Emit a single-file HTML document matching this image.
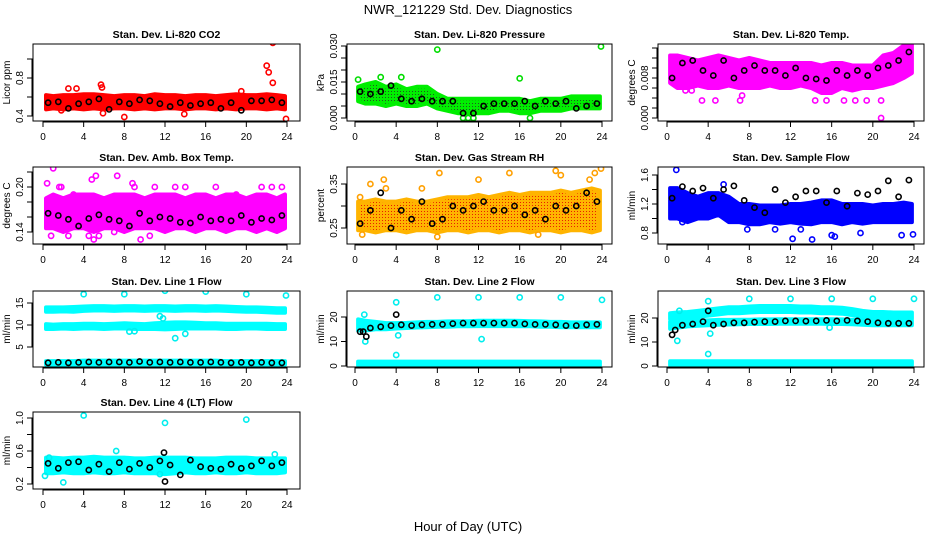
<!DOCTYPE html>
<html><head><meta charset="utf-8">
<style>
html,body{margin:0;padding:0;background:#fff;}
svg{display:block;font-family:"Liberation Sans",Arial,sans-serif;}
.ttl{font-size:10.5px;font-weight:bold;}
.tk{font-size:10px;}
</style></head>
<body>
<svg id="chart" width="936" height="540" viewBox="0 0 936 540" xmlns="http://www.w3.org/2000/svg">
<defs>
<pattern id="stipK" width="3" height="3" patternUnits="userSpaceOnUse"><rect width="3" height="3" fill="#00ee00"/><rect x="1" y="1" width="1" height="1" fill="#225522"/></pattern>
<pattern id="stipR" width="3" height="3" patternUnits="userSpaceOnUse"><rect width="3" height="3" fill="#ffb400"/><rect x="1" y="1" width="1" height="1" fill="#e82000"/></pattern>
</defs>
<text x="468" y="14" text-anchor="middle" font-size="13">NWR_121229  Std. Dev. Diagnostics</text>
<text x="468" y="531" text-anchor="middle" font-size="13">Hour of Day (UTC)</text>
</svg>
<script>
const bandH=[0.3,1,2,3,4,5,6,7,8,9,10,11,12,13,14,15,16,17,18,19,20,21,22,23,23.8];
const meanH=[0.5,1.5,2.5,3.5,4.5,5.5,6.5,7.5,8.5,9.5,10.5,11.5,12.5,13.5,14.5,15.5,16.5,17.5,18.5,19.5,20.5,21.5,22.5,23.5];
const xTicks=[0,4,8,12,16,20,24];

// Panel 1 CO2
const co2Lo=[0.47,0.48,0.47,0.48,0.47,0.48,0.47,0.48,0.48,0.47,0.48,0.47,0.48,0.48,0.47,0.48,0.48,0.47,0.48,0.47,0.48,0.48,0.47,0.48,0.47];
const co2Hi=[0.62,0.61,0.62,0.62,0.63,0.63,0.62,0.61,0.62,0.62,0.61,0.63,0.62,0.62,0.61,0.62,0.62,0.61,0.62,0.63,0.62,0.62,0.63,0.62,0.61];
const co2Mean=[0.54,0.55,0.48,0.53,0.55,0.58,0.47,0.55,0.53,0.57,0.56,0.53,0.50,0.54,0.51,0.53,0.54,0.48,0.54,0.46,0.56,0.56,0.57,0.54];
const co2OutX=[2.5,3.3,5.7,5.8,8,13.9,19.5,22,22.2,22.6,22.6,23.9,5.9,1.8];
const co2OutY=[0.69,0.69,0.73,0.7,0.39,0.42,0.66,0.93,0.86,1.17,0.75,0.37,0.43,0.46];
const co2Ticks=[0.4,0.6,0.8,1.0];const co2Labels=["0.4","","0.8",""];

// Panel 2 Pressure
const prLo=[0.007,0.006,0.006,0.005,0.006,0.005,0.005,0.006,0.004,0.003,0.002,0.002,0.002,0.002,0.003,0.003,0.002,0.002,0.003,0.003,0.003,0.004,0.004,0.004,0.004];
const prHi=[0.013,0.014,0.015,0.013,0.014,0.012,0.013,0.013,0.010,0.008,0.008,0.008,0.008,0.008,0.008,0.008,0.008,0.007,0.008,0.008,0.008,0.009,0.009,0.009,0.009];
const prMean=[0.011,0.010,0.011,0.0135,0.008,0.007,0.008,0.007,0.007,0.007,0.002,0.002,0.005,0.006,0.006,0.006,0.007,0.005,0.007,0.006,0.007,0.004,0.005,0.006];
const prOutX=[0.3,8,16,23.9,10.5,11,11.5,17,4.5,2.5];
const prOutY=[0.016,0.0285,0.0165,0.0298,0.0,0.0,0.0,0.0,0.017,0.017];
const prTicks=[0,0.005,0.01,0.015,0.02,0.025,0.03];const prLabels=["0.000","","","0.015","","","0.030"];

// Panel 3 Li-820 Temp
const tLo=[0.007,0.006,0.006,0.0065,0.006,0.006,0.0065,0.006,0.006,0.006,0.0065,0.006,0.006,0.0065,0.006,0.005,0.005,0.006,0.0055,0.006,0.006,0.0065,0.007,0.008,0.009];
const tHi=[0.0125,0.0125,0.012,0.0115,0.012,0.0125,0.012,0.0115,0.012,0.0115,0.011,0.011,0.011,0.011,0.011,0.0105,0.011,0.011,0.0105,0.0105,0.0105,0.0125,0.013,0.0145,0.0155];
const tMean=[0.008,0.011,0.0115,0.0095,0.0085,0.0115,0.008,0.0095,0.0105,0.0095,0.0095,0.0085,0.010,0.008,0.0078,0.0075,0.0095,0.0085,0.0095,0.0085,0.010,0.0105,0.0115,0.0132];
const tOutX=[3.4,4.7,7.1,7.3,14.4,15.5,17.2,18.3,19.4,20.8,20.8,1.8,2.4];
const tOutY=[0.0035,0.0035,0.0035,0.0045,0.0035,0.0035,0.0035,0.0035,0.0035,0.0035,0.0,0.0055,0.0055];
const tTicks=[0,0.002,0.004,0.006,0.008,0.010,0.012,0.014];const tLabels=["0.000","","","","0.008","","",""];

// Panel 4 Amb box temp
const abLo=[0.145,0.145,0.14,0.145,0.145,0.14,0.145,0.145,0.14,0.145,0.145,0.145,0.14,0.145,0.145,0.14,0.145,0.145,0.14,0.145,0.145,0.14,0.145,0.14,0.145];
const abHi=[0.185,0.19,0.185,0.19,0.19,0.19,0.185,0.19,0.19,0.19,0.185,0.19,0.19,0.19,0.185,0.19,0.19,0.185,0.19,0.19,0.185,0.19,0.19,0.185,0.19];
const abMean=[0.165,0.162,0.157,0.148,0.158,0.163,0.157,0.155,0.148,0.165,0.155,0.16,0.158,0.153,0.152,0.16,0.155,0.157,0.155,0.162,0.153,0.158,0.156,0.162];
const abOutX=[1,0.4,1.6,1.8,4.8,5,5.2,7.3,8.8,9,9.6,4.5,0.8,2.5,5.5,11,14,17,19,21.5,23.5,13,10.5,7,22.5,3];
const abOutY=[0.225,0.205,0.2,0.2,0.21,0.13,0.215,0.215,0.205,0.2,0.13,0.135,0.135,0.135,0.135,0.2,0.2,0.2,0.19,0.2,0.2,0.2,0.135,0.14,0.2,0.19];
const abTicks=[0.14,0.16,0.18,0.20,0.22];const abLabels=["0.14","","","0.20",""];

// Panel 5 RH
const rhLo=[0.245,0.245,0.24,0.245,0.245,0.24,0.245,0.245,0.24,0.245,0.245,0.24,0.245,0.245,0.24,0.245,0.245,0.24,0.245,0.245,0.24,0.245,0.245,0.24,0.245];
const rhHi=[0.31,0.31,0.315,0.31,0.31,0.315,0.31,0.31,0.315,0.32,0.32,0.32,0.325,0.32,0.325,0.33,0.325,0.33,0.33,0.33,0.335,0.33,0.335,0.34,0.335];
const rhMean=[0.26,0.29,0.33,0.25,0.29,0.27,0.31,0.26,0.27,0.3,0.29,0.3,0.31,0.29,0.29,0.3,0.28,0.29,0.27,0.3,0.29,0.3,0.33,0.31];
const rhOutX=[0.5,1.5,0.7,8.2,8,15,19.5,20,23.3,23.9,22.8,3,6.5,12,17.8,2.8];
const rhOutY=[0.32,0.35,0.235,0.375,0.23,0.375,0.38,0.37,0.375,0.385,0.36,0.34,0.34,0.36,0.235,0.36];
const rhTicks=[0.25,0.30,0.35];const rhLabels=["0.25","","0.35"];

// Panel 6 Sample flow
const sfLo=[1.0,1.0,0.95,1.0,1.0,1.05,0.95,0.95,0.92,0.92,0.95,0.93,0.95,0.93,0.92,0.95,0.95,0.92,0.95,0.93,0.95,0.95,0.95,0.95,0.95];
const sfHi=[1.42,1.42,1.35,1.3,1.35,1.35,1.3,1.2,1.2,1.18,1.18,1.18,1.2,1.2,1.22,1.25,1.25,1.2,1.2,1.2,1.18,1.2,1.2,1.22,1.2];
const sfMean=[1.28,1.44,1.38,1.42,1.28,1.4,1.45,1.25,1.15,1.08,1.4,1.22,1.3,1.38,1.38,1.22,1.38,1.17,1.35,1.33,1.38,1.52,1.3,1.53];
const sfOutX=[0.9,1.5,5.5,7.8,12.2,14.1,16,16.3,18.8,22.8,23.9,10.5,13,9];
const sfOutY=[1.67,0.95,1.47,0.85,0.72,0.71,0.77,0.75,0.8,0.77,0.78,0.85,0.85,0.95];
const sfTicks=[0.8,1.0,1.2,1.4,1.6];const sfLabels=["0.8","","1.2","","1.6"];

// Panel 7 Line 1 flow
const l1TopLo=[13,13,13.1,13,13.2,13.3,13.3,13.2,13.3,13.3,13.2,13.3,13.3,13.2,13.3,13.3,13.2,13.3,13.2,13.1,13,13,12.9,12.8,12.8];
const l1TopHi=[14,14,14,14.1,14.2,14.3,14.3,14.2,14.3,14.3,14.2,14.3,14.3,14.2,14.3,14.3,14.2,14.3,14.2,14.1,14,14,13.9,13.8,13.8];
const l1MidLo=[9.1,9.1,9.2,9.1,9.2,9.2,9.1,9.2,9.2,9.1,9.1,9.1,9.0,9.1,9.2,9.2,9.2,9.2,9.1,9.1,9.2,9.2,9.1,9.1,9.1];
const l1MidHi=[10.2,10.1,10.2,10.2,10.3,10.3,10.2,10.3,10.4,10.3,10.2,10.4,10.5,10.6,10.6,10.5,10.4,10.4,10.3,10.3,10.3,10.3,10.3,10.2,10.2];
const l1LowLo=[1.0,1.0,1.0,1.0,1.0,1.0,1.0,1.0,1.0,1.0,1.0,1.0,1.0,1.0,1.0,1.0,1.0,1.0,1.0,1.0,1.0,1.0,1.0,1.0,1.0];
const l1LowHi=[1.8,1.8,1.8,1.8,1.9,1.9,1.9,1.9,1.9,1.9,1.9,1.9,1.9,1.9,1.9,1.9,1.9,1.9,1.8,1.8,1.8,1.8,1.8,1.8,1.8];
const l1Mean=[1.4,1.5,1.4,1.5,1.6,1.5,1.6,1.6,1.5,1.7,1.5,1.6,1.5,1.6,1.5,1.5,1.6,1.5,1.4,1.5,1.4,1.5,1.4,1.4];
const l1OutX=[4,8,12,16,20,23.9,11.8,13,14,8.5,9,11.5];
const l1OutY=[17,17,17.8,17.6,17,16.7,11.5,7,8,8.5,8.6,12];
const l1Ticks=[5,10,15];const l1Labels=["5","10","15"];

// Panel 8 Line 2 flow
const l2TopLo=[14.5,14.5,15,15,15.3,15.5,15.7,15.8,16,16,16.2,16.2,16.3,16.3,16.3,16.3,16.2,16.2,16,16,15.8,15.8,15.8,15.8,15.8];
const l2TopHi=[19,18.5,18,17.5,17.5,17.6,17.8,18,18,18.2,18.3,18.3,18.5,18.5,18.5,18.5,18.4,18.3,18.2,18,18,17.8,17.8,17.8,17.8];
const l2LowLo=[0.2,0.2,0.2,0.2,0.2,0.2,0.2,0.2,0.2,0.2,0.2,0.2,0.2,0.2,0.2,0.2,0.2,0.2,0.2,0.2,0.2,0.2,0.2,0.2,0.2];
const l2LowHi=[1.8,1.8,1.8,1.8,1.8,1.8,1.8,1.8,1.8,1.8,1.8,1.8,1.8,1.8,1.8,1.8,1.8,1.8,1.8,1.8,1.8,1.8,1.8,1.8,1.8];
const l2Mean=[14,15.5,16,16.5,16.8,16.5,16.8,17,17,17.3,17.5,17.5,17.5,17.5,17.5,17.5,17.2,17,17,16.8,16.5,16.5,16.8,17];
const l2OutX=[4,4,1,8,12,16,20,24,0.9,12.3,4.2];
const l2OutY=[26,4.5,10,28,28,28,28,27,21,11,12.5];
const l2ExtraX=[0.8,1.1,4];const l2ExtraY=[14,12,21];
const l2Ticks=[0,10,20];const l2Labels=["0","10","20"];

// Panel 9 Line 3 flow
const l3TopLo=[19.5,19.8,20,20.5,21,21.5,22,22,22.3,22.5,22.5,22.5,22.5,22.3,22.3,22,22,21.8,21.2,20.5,20,20,19.8,19.8,19.8];
const l3TopHi=[22,22.3,22.5,23,23.5,24,24.5,24.5,24.8,25,25,25,25,24.8,24.8,24.5,24.5,24.3,23.7,23,22.5,22.5,22.3,22.3,22.3];
const l3MidLo=[15.5,16,16.5,16.8,17,17.2,17.3,17.4,17.5,17.5,17.5,17.6,17.6,17.6,17.6,17.6,17.5,17.5,17.4,17.2,17,17,17,17,17];
const l3MidHi=[18.5,18.7,18.8,19,19,19.2,19.2,19.3,19.3,19.4,19.4,19.5,19.5,19.5,19.5,19.5,19.5,19.4,19.3,19.2,19,19,19,19,19];
const l3LowLo=[0.3,0.3,0.3,0.3,0.3,0.3,0.3,0.3,0.3,0.3,0.3,0.3,0.3,0.3,0.3,0.3,0.3,0.3,0.3,0.3,0.3,0.3,0.3,0.3,0.3];
const l3LowHi=[2,2,2,2,2,2,2,2,2,2,2,2,2,2,2,2,2,2,2,2,2,2,2,2,2];
const l3Mean=[13,17,17.5,18.5,17,17.5,18,18,18.3,18.5,18.5,18.8,18.8,18.7,18.8,19,18.8,19,18.8,18.5,18,17.8,17.8,17.8];
const l3OutX=[4,4,4.2,1,1.2,8,12,16,20,24,15.8];
const l3OutY=[5,27,13.5,10.5,23,28,28,28,28,28,16];
const l3ExtraX=[0.8,4];const l3ExtraY=[15,23];
const l3Ticks=[0,10,20];const l3Labels=["0","10","20"];

// Panel 10 Line 4 flow
const l4Lo=[0.33,0.33,0.34,0.33,0.33,0.34,0.33,0.33,0.34,0.33,0.33,0.33,0.32,0.33,0.34,0.33,0.33,0.34,0.33,0.33,0.34,0.33,0.33,0.33,0.34];
const l4Hi=[0.52,0.52,0.51,0.52,0.52,0.53,0.52,0.52,0.52,0.51,0.51,0.52,0.52,0.52,0.52,0.51,0.51,0.51,0.52,0.52,0.52,0.51,0.51,0.51,0.51];
const l4Mean=[0.45,0.39,0.46,0.47,0.37,0.44,0.35,0.46,0.38,0.45,0.40,0.48,0.43,0.31,0.49,0.41,0.39,0.38,0.44,0.39,0.42,0.48,0.42,0.46];
const l4OutX=[4,12,20,2,0.2,7.2,22.8,0.6,11.5];
const l4OutY=[1.03,0.94,0.98,0.22,0.3,0.6,0.56,0.52,0.32];
const l4ExtraX=[12,11.9];const l4ExtraY=[0.23,0.58];
const l4Ticks=[0.2,0.4,0.6,0.8,1.0];const l4Labels=["0.2","","0.6","","1.0"];

const NS="http://www.w3.org/2000/svg";
const svg=document.getElementById('chart');
function mk(tag,attrs,parent){const e=document.createElementNS(NS,tag);for(const k in attrs)e.setAttribute(k,attrs[k]);(parent||svg).appendChild(e);return e;}

const cols=[{l:33,r:300,x0:43,x24:287},{l:347,r:612,x0:355,x24:602},{l:658,r:924,x0:667,x24:914}];
const rows=[{t:44,b:121},{t:167,b:244},{t:291,b:367},{t:412,b:489}];

const panels=[
 {id:'co2',c:0,r:0,title:'Stan. Dev. Li-820 CO2',ylab:'Licor ppm',v1:0.4,p1:116,v2:0.8,p2:78,ticks:co2Ticks,labels:co2Labels,
  bands:[{lo:co2Lo,hi:co2Hi,col:'#ff0000'}],out:[co2OutX,co2OutY],outCol:'#ff0000',mean:co2Mean},
 {id:'pressure',c:1,r:0,title:'Stan. Dev. Li-820 Pressure',ylab:'kPa',v1:0,p1:118,v2:0.03,p2:46,ticks:prTicks,labels:prLabels,
  bands:[{lo:prLo,hi:prHi,col:'#00ee00',fill:'url(#stipK)'}],out:[prOutX,prOutY],outCol:'#00dd00',mean:prMean},
 {id:'li820-temp',c:2,r:0,title:'Stan. Dev. Li-820 Temp.',ylab:'degrees C',v1:0,p1:118,v2:0.008,p2:78,ticks:tTicks,labels:tLabels,
  bands:[{lo:tLo,hi:tHi,col:'#ff00ff'}],out:[tOutX,tOutY],outCol:'#ff00ff',mean:tMean},
 {id:'amb-box-temp',c:0,r:1,title:'Stan. Dev. Amb. Box Temp.',ylab:'degrees C',v1:0.14,p1:232,v2:0.20,p2:187,ticks:abTicks,labels:abLabels,
  bands:[{lo:abLo,hi:abHi,col:'#ff00ff'}],out:[abOutX,abOutY],outCol:'#ff00ff',mean:abMean},
 {id:'gas-stream-rh',c:1,r:1,title:'Stan. Dev. Gas Stream RH',ylab:'percent',v1:0.25,p1:228,v2:0.35,p2:184,ticks:rhTicks,labels:rhLabels,
  bands:[{lo:rhLo,hi:rhHi,col:'#ffb400',fill:'url(#stipR)'}],out:[rhOutX,rhOutY],outCol:'#ffa000',mean:rhMean},
 {id:'sample-flow',c:2,r:1,title:'Stan. Dev. Sample Flow',ylab:'ml/min',v1:0.8,p1:233,v2:1.6,p2:175,ticks:sfTicks,labels:sfLabels,
  bands:[{lo:sfLo,hi:sfHi,col:'#0000ff'}],out:[sfOutX,sfOutY],outCol:'#0000ff',mean:sfMean},
 {id:'line1-flow',c:0,r:2,title:'Stan. Dev. Line 1 Flow',ylab:'ml/min',v1:5,p1:347,v2:15,p2:303,ticks:l1Ticks,labels:l1Labels,
  bands:[{lo:l1TopLo,hi:l1TopHi,col:'#00ffff'},{lo:l1MidLo,hi:l1MidHi,col:'#00ffff'},{lo:l1LowLo,hi:l1LowHi,col:'#00ffff'}],out:[l1OutX,l1OutY],outCol:'#00eeee',mean:l1Mean},
 {id:'line2-flow',c:1,r:2,title:'Stan. Dev. Line 2 Flow',ylab:'ml/min',v1:0,p1:366,v2:20,p2:317,ticks:l2Ticks,labels:l2Labels,
  bands:[{lo:l2TopLo,hi:l2TopHi,col:'#00ffff'},{lo:l2LowLo,hi:l2LowHi,col:'#00ffff'}],out:[l2OutX,l2OutY],outCol:'#00eeee',mean:l2Mean,extra:[l2ExtraX,l2ExtraY]},
 {id:'line3-flow',c:2,r:2,title:'Stan. Dev. Line 3 Flow',ylab:'ml/min',v1:0,p1:366,v2:20,p2:318,ticks:l3Ticks,labels:l3Labels,
  bands:[{lo:l3TopLo,hi:l3TopHi,col:'#00ffff'},{lo:l3MidLo,hi:l3MidHi,col:'#00ffff'},{lo:l3LowLo,hi:l3LowHi,col:'#00ffff'}],out:[l3OutX,l3OutY],outCol:'#00eeee',mean:l3Mean,extra:[l3ExtraX,l3ExtraY]},
 {id:'line4-flow',c:0,r:3,title:'Stan. Dev. Line 4 (LT) Flow',ylab:'ml/min',v1:0.2,p1:484,v2:1.0,p2:418,ticks:l4Ticks,labels:l4Labels,
  bands:[{lo:l4Lo,hi:l4Hi,col:'#00ffff'}],out:[l4OutX,l4OutY],outCol:'#00eeee',mean:l4Mean,extra:[l4ExtraX,l4ExtraY]}
];

function circle(g,x,y,col,name){
  const c=mk('circle',{cx:x.toFixed(1),cy:y.toFixed(1),r:2.6,fill:'none',stroke:col,'stroke-width':1.6},g);
  
  
}

panels.forEach((p,pi)=>{
  const C=cols[p.c],R=rows[p.r];
  const X=h=>C.x0+(h/24)*(C.x24-C.x0);
  const Y=v=>p.p1+(v-p.v1)*(p.p2-p.p1)/(p.v2-p.v1);
  const g=mk('g',{});
  
  
  const cp=mk('clipPath',{id:'cp'+pi},g);
  mk('rect',{x:C.l,y:R.t,width:C.r-C.l,height:R.b-R.t},cp);
  const pg=mk('g',{'clip-path':'url(#cp'+pi+')'},g);
  p.bands.forEach((b,bi)=>{
    let pts=[];
    bandH.forEach((h,i)=>pts.push(X(h).toFixed(1)+','+Y(b.hi[i]).toFixed(1)));
    for(let i=bandH.length-1;i>=0;i--)pts.push(X(bandH[i]).toFixed(1)+','+Y(b.lo[i]).toFixed(1));
    const poly=mk('polygon',{points:pts.join(' '),fill:b.fill||b.col,stroke:b.col,'stroke-width':4,'stroke-linejoin':'round'},pg);
    
    
  });
  p.out[0].forEach((h,i)=>circle(pg,X(h),Y(p.out[1][i]),p.outCol,'outlier-point'));
  p.mean.forEach((v,i)=>circle(pg,X(meanH[i]),Y(v),'#000','mean-point'));
  if(p.extra)p.extra[0].forEach((h,i)=>circle(pg,X(h),Y(p.extra[1][i]),'#000','mean-point'));
  const box=mk('rect',{x:C.l,y:R.t,width:C.r-C.l,height:R.b-R.t,fill:'none',stroke:'#000','stroke-width':1},g);
  
  
  const t=mk('text',{x:(C.l+C.r)/2,y:R.t-6,'text-anchor':'middle',class:'ttl'},g);
  t.textContent=p.title;
  
  
  // x axis
  mk('line',{x1:X(0),x2:X(24),y1:R.b+1,y2:R.b+1,stroke:'#000'},g);
  xTicks.forEach(h=>{
    mk('line',{x1:X(h),x2:X(h),y1:R.b,y2:R.b+6,stroke:'#000'},g);
    const tx=mk('text',{x:X(h),y:R.b+19,'text-anchor':'middle',class:'tk'},g);
    tx.textContent=h;
    
    
  });
  // y axis
  const ys=p.ticks.map(Y);
  mk('line',{x1:C.l-1,x2:C.l-1,y1:Math.min(...ys),y2:Math.max(...ys),stroke:'#000'},g);
  p.ticks.forEach((v,i)=>{
    const y=Y(v);
    mk('line',{x1:C.l-6,x2:C.l,y1:y,y2:y,stroke:'#000'},g);
    if(p.labels[i]){
      const ty=mk('text',{x:0,y:0,'text-anchor':'middle',class:'tk',transform:'translate('+(C.l-10)+','+y+') rotate(-90)'},g);
      ty.textContent=p.labels[i];
      
      
    }
  });
  const yl=mk('text',{x:0,y:0,'text-anchor':'middle',class:'tk',transform:'translate('+(C.l-23)+','+((R.t+R.b)/2)+') rotate(-90)'},g);
  yl.textContent=p.ylab;
  
  
});
</script>
</body></html>
